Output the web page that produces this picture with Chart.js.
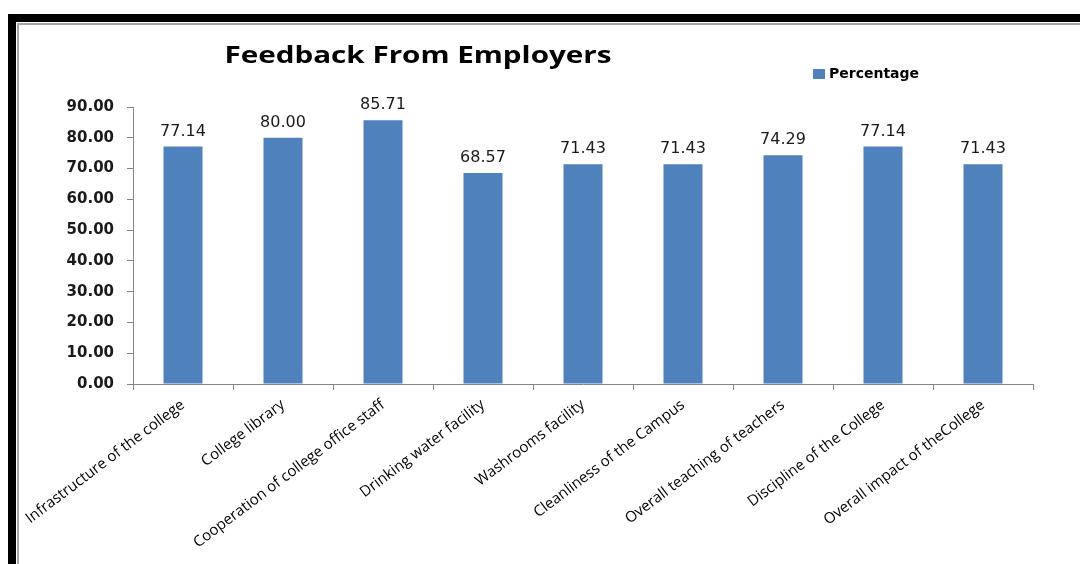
<!DOCTYPE html>
<html>
<head>
<meta charset="utf-8">
<script src="https://cdn.jsdelivr.net/npm/chart.js@4"></script>
<style>
  html, body { margin: 0; padding: 0; background: #fff; }
  #wrap { position: relative; width: 1080px; height: 564px; overflow: hidden; }
  .edge { position: absolute; pointer-events: none; }
</style>
</head>
<body>
<div id="wrap">
  <canvas id="feedbackChart"></canvas>
  <div class="edge" style="left:8px;top:14px;width:1072px;height:8px;background:#000"></div>
  <div class="edge" style="left:8px;top:14px;width:8px;height:550px;background:#000"></div>
  <div class="edge" style="left:17px;top:23px;width:1063px;height:2px;background:#a6a6a6"></div>
  <div class="edge" style="left:17px;top:23px;width:2px;height:541px;background:#a6a6a6"></div>
</div>
<script>
// --- Chart data ---
const categories = [
  "Infrastructure of the college",
  "College library",
  "Cooperation of college office staff",
  "Drinking water facility",
  "Washrooms facility",
  "Cleanliness of the Campus",
  "Overall teaching of teachers",
  "Discipline of the College",
  "Overall impact of theCollege"
];
const percentages = [77.14, 80.00, 85.71, 68.57, 71.43, 71.43, 74.29, 77.14, 71.43];
const seriesName = "Percentage";
const chartTitle = "Feedback From Employers";
const yTicks = { min: 0, max: 90, step: 10 };

const barColor = "#4F81BD";
const axisColor = "#868686";

// --- Plugins ---
// value labels above each bar
const barValueLabels = {
  id: "barValueLabels",
  afterDatasetsDraw(chart) {
    const ctx = chart.ctx;
    const meta = chart.getDatasetMeta(0);
    ctx.save();
    ctx.font = "16px 'DejaVu Sans'";
    ctx.fillStyle = "#1a1a1a";
    ctx.textAlign = "center";
    ctx.textBaseline = "alphabetic";
    meta.data.forEach((bar, i) => {
      ctx.fillText(percentages[i].toFixed(2), bar.x, bar.y - 11);
    });
    ctx.restore();
  }
};

// title and legend sit in the top band like the original sheet chart
const headerBand = {
  id: "headerBand",
  afterDraw(chart) {
    const ctx = chart.ctx;
    ctx.save();
    ctx.fillStyle = "#000";
    ctx.font = "bold 24px 'Open Sans'";
    ctx.textAlign = "center";
    ctx.textBaseline = "middle";
    // the sheet chart is stretched sideways, so widen the title to match
    const w = ctx.measureText(chartTitle).width;
    ctx.translate(418, 56);
    ctx.scale(387 / w, 1);
    ctx.fillText(chartTitle, 0, 0);
    ctx.restore();

    ctx.save();
    const ds = chart.data.datasets[0];
    ctx.fillStyle = ds.backgroundColor;
    ctx.fillRect(813, 69, 12, 10);
    ctx.fillStyle = "#000";
    ctx.font = "bold 14px 'DejaVu Sans'";
    ctx.textAlign = "left";
    ctx.textBaseline = "middle";
    ctx.fillText(ds.label, 829, 74);
    ctx.restore();
  }
};

// --- Render ---
const ctx = document.getElementById("feedbackChart").getContext("2d");
new Chart(ctx, {
  type: "bar",
  data: {
    labels: categories,
    datasets: [{
      label: seriesName,
      data: percentages,
      backgroundColor: barColor,
      barPercentage: 0.39,
      categoryPercentage: 1.0
    }]
  },
  options: {
    responsive: true,
    maintainAspectRatio: false,
    animation: false,
    layout: { padding: { top: 107, right: 47, bottom: 0, left: 0 } },
    plugins: {
      legend: { display: false },
      title: { display: false },
      tooltip: { enabled: false }
    },
    scales: {
      x: {
        grid: { drawOnChartArea: false, drawTicks: true, tickLength: 6, color: axisColor, offset: true },
        border: { color: axisColor },
        ticks: {
          color: "#000",
          font: { family: "'Open Sans'", size: 15 },
          minRotation: 37,
          maxRotation: 37,
          autoSkip: false,
          padding: 6
        },
        afterFit(scale) { scale.height = 180; }
      },
      y: {
        min: yTicks.min,
        max: yTicks.max,
        grid: { drawOnChartArea: false, drawTicks: true, tickLength: 6, color: axisColor },
        border: { color: axisColor },
        ticks: {
          stepSize: yTicks.step,
          color: "#1a1a1a",
          font: { family: "'DejaVu Sans'", size: 15, weight: "bold" },
          padding: 13,
          callback: v => v.toFixed(2)
        },
        afterFit(scale) { scale.width = 133; }
      }
    }
  },
  plugins: [barValueLabels, headerBand]
});
</script>
</body>
</html>
